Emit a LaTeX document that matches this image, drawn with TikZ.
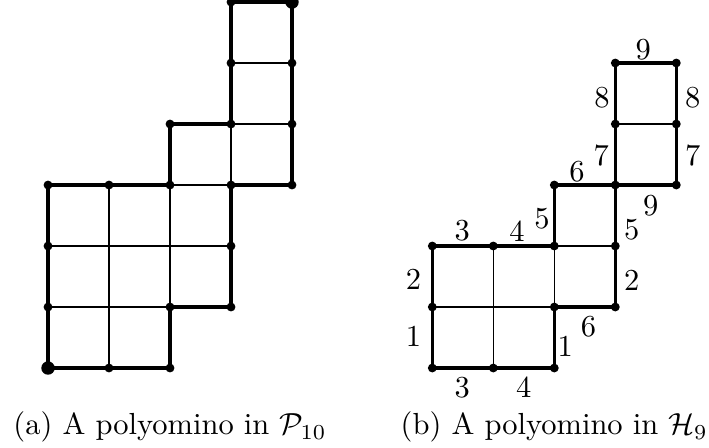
\documentclass[tikz,border=0pt]{standalone}
\usepackage{amsmath,amssymb}
\usetikzlibrary{positioning}

\begin{document}
\begin{tikzpicture}[
  x=0.703cm,y=0.703cm,
  every node/.style={font=\normalsize},
  cellline/.style={line width=0.45pt},
  rimline/.style={line width=1.1pt,line join=miter},
  latdot/.style={circle,fill=black,inner sep=0pt,minimum size=2.9pt},
  bigdot/.style={circle,fill=black,inner sep=0pt,minimum size=4.4pt},
  edgelbl/.style={inner sep=0pt},
]
  \useasboundingbox (-0.787,-1.311) rectangle (10.836,6.033);

  % (a) Polyomino in P_10
  \draw[cellline] (1,0) -- (1,3);
  \draw[cellline] (2,1) -- (2,3);
  \draw[cellline] (0,1) -- (2,1);
  \draw[cellline] (0,2) -- (3,2);
  \draw[cellline] (2,3) -- (3,3) -- (3,4);
  \draw[cellline] (3,4) -- (4,4);
  \draw[cellline] (3,5) -- (4,5);

  \draw[rimline] (0,0) -- (2,0) -- (2,1) -- (3,1) -- (3,3) -- (4,3) -- (4,6)
    -- (3,6) -- (3,4) -- (2,4) -- (2,3) -- (0,3) -- cycle;

  \foreach \p in {(1,0),(2,0),(2,1),(3,1),(3,2),(3,3),(4,3),(4,4),(4,5),
                  (3,6),(3,5),(3,4),(2,4),(2,3),(1,3),(0,3),(0,2),(0,1)}
    \node[latdot] at \p {};
  \node[bigdot] (astart) at (0,0) {};
  \node[bigdot] (aend) at (4,6) {};

  \node[anchor=base] (capa) at (2,-1.098) {(a) A polyomino in $\mathcal{P}_{10}$};

  % (b) Polyomino in H_9
  \begin{scope}[shift={(6.3,0)}]
    \draw[cellline] (1,0) -- (1,2);
    \draw[cellline] (0,1) -- (2,1);
    \draw[cellline] (2,1) -- (2,2) -- (3,2);
    \draw[cellline] (3,4) -- (4,4);

    \draw[rimline] (0,0) -- (2,0) -- (2,1) -- (3,1) -- (3,3) -- (4,3) -- (4,5)
      -- (3,5) -- (3,3) -- (2,3) -- (2,2) -- (0,2) -- cycle;

    \foreach \p in {(0,0),(1,0),(2,0),(2,1),(3,1),(3,2),(3,3),(4,3),(4,4),
                    (4,5),(3,5),(3,4),(2,3),(2,2),(1,2),(0,2),(0,1)}
      \node[latdot] at \p {};

    % Edge labels
    \node[edgelbl] (b9t) at (3.46,5.22) {9};
    \node[edgelbl] (b8l) at (2.78,4.43) {8};
    \node[edgelbl] (b8r) at (4.27,4.43) {8};
    \node[edgelbl] (b7l) at (2.77,3.48) {7};
    \node[edgelbl] (b7r) at (4.27,3.48) {7};
    \node[edgelbl] (b6t) at (2.37,3.22) {6};
    \node[edgelbl] (b9b) at (3.58,2.66) {9};
    \node[edgelbl] (b5l) at (1.80,2.45) {5};
    \node[edgelbl] (b5r) at (3.27,2.27) {5};
    \node[edgelbl] (b3t) at (0.49,2.25) {3};
    \node[edgelbl] (b4t) at (1.39,2.25) {4};
    \node[edgelbl] (b2l) at (-0.31,1.46) {2};
    \node[edgelbl] (b2r) at (3.27,1.43) {2};
    \node[edgelbl] (b6b) at (2.56,0.67) {6};
    \node[edgelbl] (b1l) at (-0.31,0.52) {1};
    \node[edgelbl] (b1r) at (2.18,0.36) {1};
    \node[edgelbl] (b3b) at (0.49,-0.32) {3};
    \node[edgelbl] (b4b) at (1.50,-0.32) {4};

    \node[anchor=base] (capb) at (2,-1.098) {(b) A polyomino in $\mathcal{H}_9$};
  \end{scope}
\end{tikzpicture}
\end{document}
